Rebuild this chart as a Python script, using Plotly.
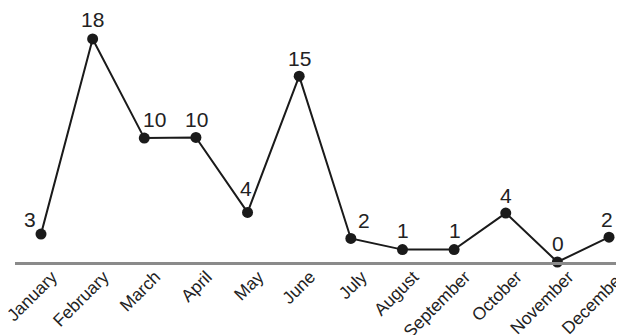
import plotly.graph_objects as go

months = ["January", "February", "March", "April", "May", "June",
          "July", "August", "September", "October", "November", "December"]
values = [2.25, 18, 10, 10.05, 4, 15, 1.9, 1, 1, 3.95, 0, 2]
point_labels = ["3", "18", "10", "10", "4", "15", "2", "1", "1", "4", "0", "2"]

# label offsets from each point (style, px)
label_dx = [-11, 0, 10, 1, -2, 0, 13, 1, 1, 0, 1, -2]
label_gap = [6, 11, 10, 9, 15, 9, 9, 11, 11, 9, 10, 9]

fig = go.Figure(go.Scatter(
    x=months, y=values, mode="lines+markers",
    line=dict(color="#1a1a1a", width=2),
    marker=dict(color="#1a1a1a", size=11),
    cliponaxis=False,
))

for m, v, t, dx, g in zip(months, values, point_labels, label_dx, label_gap):
    fig.add_annotation(
        x=m, y=v, text=t, showarrow=False,
        xanchor="center", yanchor="bottom",
        xshift=dx, yshift=g - 5,
        font=dict(size=21, color="#222222"),
    )

fig.update_layout(
    width=616, height=327,
    margin=dict(l=7, r=0, t=0, b=73, autoexpand=False),
    paper_bgcolor="white", plot_bgcolor="white",
    font=dict(family="Liberation Sans, Arial, sans-serif", color="#222222"),
    showlegend=False,
)
fig.update_xaxes(
    type="category", range=[-0.5035, 11.29], automargin=False,
    showline=True, linecolor="#8a8a8a", linewidth=2.5,
    showgrid=False, ticks="", tickangle=-45,
    tickfont=dict(size=17.5, color="#222222"),
    ticklabelshift=11, ticklabelstandoff=-5,
)
fig.update_yaxes(range=[0, 20.5], visible=False, showgrid=False, zeroline=False)

fig.write_html("out.html")
